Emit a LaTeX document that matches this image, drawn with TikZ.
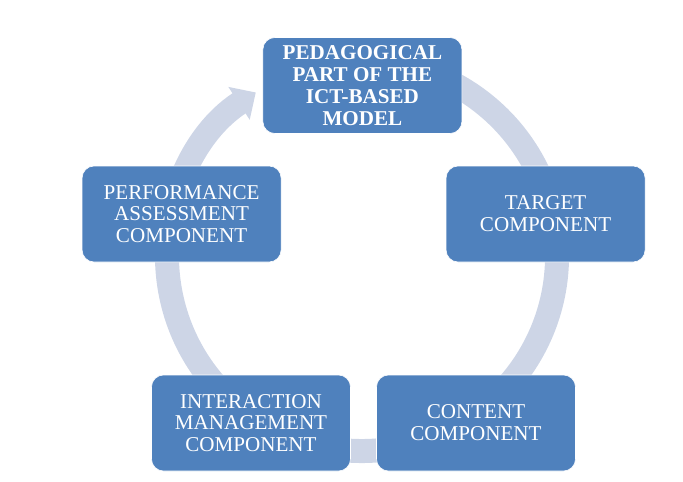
\documentclass[tikz,border=0pt]{standalone}
\usepackage{fontspec}
\setmainfont{Liberation Serif}
\usetikzlibrary{arrows.meta}
\definecolor{boxblue}{RGB}{79,129,189}
\definecolor{ringgray}{RGB}{205,213,230}
\begin{document}
\begin{tikzpicture}[part/.style={draw=white,thin,fill=boxblue,rounded corners=0.3cm,minimum width=4.975cm,minimum height=2.4cm,inner sep=0pt,align=center,text=white,font=\fontsize{15}{15.5}\selectfont}]

\useasboundingbox (0,0) rectangle (17.075,12.025);
\coordinate (c) at (9.05,5.625);
\draw[ringgray,line width=0.6cm,-{Triangle[length=0.5cm,width=0.95cm]}] (c) ++(100:4.875) arc[start angle=100,end angle=-237,radius=4.875];
\node[part] (ped) at (9.06,9.8875) {\textbf{PEDAGOGICAL}\\\textbf{PART OF THE}\\\textbf{ICT-BASED}\\\textbf{MODEL}};
\node[part] (target) at (13.64,6.675) {TARGET\\COMPONENT};
\node[part] (content) at (11.9,1.45) {CONTENT\\COMPONENT};
\node[part] (inter) at (6.275,1.45) {INTERACTION\\MANAGEMENT\\COMPONENT};
\node[part] (perf) at (4.54,6.675) {PERFORMANCE\\ASSESSMENT\\COMPONENT};
\end{tikzpicture}
\end{document}
